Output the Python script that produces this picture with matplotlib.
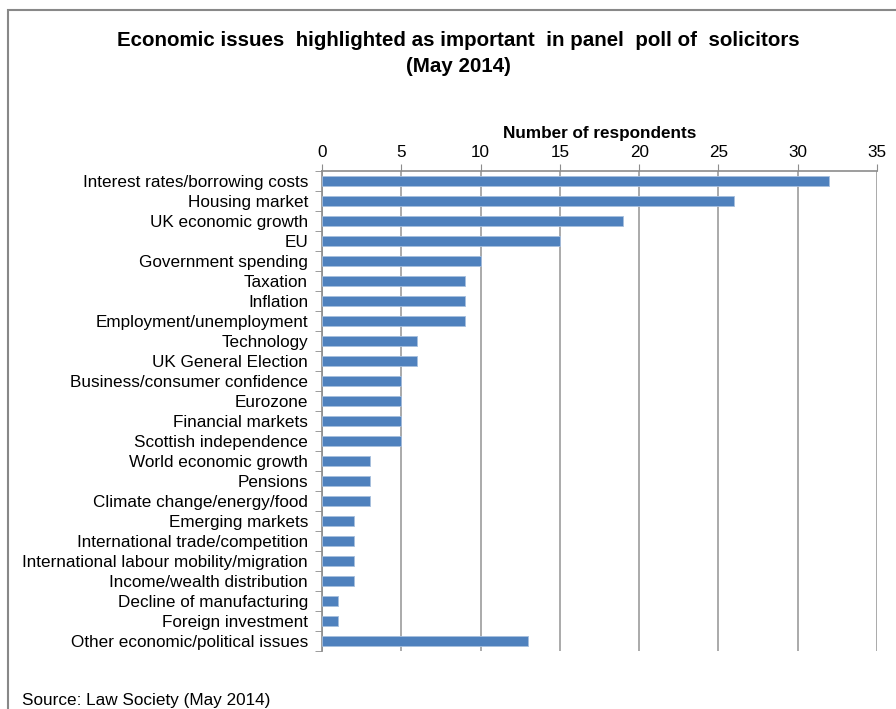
import matplotlib
matplotlib.use("Agg")
import numpy as np
import matplotlib.pyplot as plt
from matplotlib.patches import Rectangle

plt.rcParams["font.family"] = ["Liberation Sans", "DejaVu Sans"]

issues = [
    "Interest rates/borrowing costs", "Housing market", "UK economic growth", "EU",
    "Government spending", "Taxation", "Inflation", "Employment/unemployment",
    "Technology", "UK General Election", "Business/consumer confidence", "Eurozone",
    "Financial markets", "Scottish independence", "World economic growth", "Pensions",
    "Climate change/energy/food", "Emerging markets", "International trade/competition",
    "International labour mobility/migration", "Income/wealth distribution",
    "Decline of manufacturing", "Foreign investment", "Other economic/political issues",
]
respondents = [32, 26, 19, 15, 10, 9, 9, 9, 6, 6, 5, 5, 5, 5, 3, 3, 3, 2, 2, 2, 2, 1, 1, 13]
xticks = [0, 5, 10, 15, 20, 25, 30, 35]

fig = plt.figure(figsize=(8.96, 7.09), dpi=100)
ax = fig.add_axes([322 / 896, 1 - 651 / 709, 555 / 896, 480 / 709])

y = np.arange(len(issues))
ax.barh(y, respondents, height=0.48, color="#4F81BD", edgecolor="#A7BFDE", linewidth=0.6, zorder=3)
ax.set_ylim(len(issues) - 0.5, -0.5)
ax.set_xlim(0, 35)

ax.set_yticks(y)
ax.set_yticklabels(issues, fontsize=12.3)
ax.set_yticks(np.arange(len(issues) + 1) - 0.5, minor=True)
ax.tick_params(axis="y", which="major", length=0, pad=10)
ax.tick_params(axis="y", which="minor", length=5, color="#8C8C8C", direction="out")

ax.xaxis.tick_top()
ax.xaxis.set_label_position("top")
ax.set_xticks(xticks)
ax.tick_params(axis="x", labelsize=12.3, length=5, color="#8C8C8C", pad=3)
ax.set_xlabel("Number of respondents", fontsize=12.3, fontweight="bold", labelpad=5)
ax.grid(axis="x", color="#9C9C9C", linewidth=1.2, zorder=0)

for s in ["right", "bottom"]:
    ax.spines[s].set_visible(False)
for s in ["left", "top"]:
    ax.spines[s].set_color("#8C8C8C")
    ax.spines[s].set_linewidth(1.2)

fig.text(458 / 896, 1 - 40 / 709, "Economic issues  highlighted as important  in panel  poll of  solicitors",
         ha="center", va="center", fontsize=14.8, fontweight="bold")
fig.text(458 / 896, 1 - 66 / 709, "(May 2014)", ha="center", va="center", fontsize=14.8, fontweight="bold")
fig.text(22 / 896, 1 - 700 / 709, "Source: Law Society (May 2014)", ha="left", va="center", fontsize=12.3)

fig.patches.append(Rectangle((8 / 896, -0.1), 1.2, 1 - 10 / 709 + 0.1, transform=fig.transFigure,
                             fill=False, edgecolor="#888888", linewidth=1.5))

fig.savefig("out.png", dpi=100)
plt.close("all")
